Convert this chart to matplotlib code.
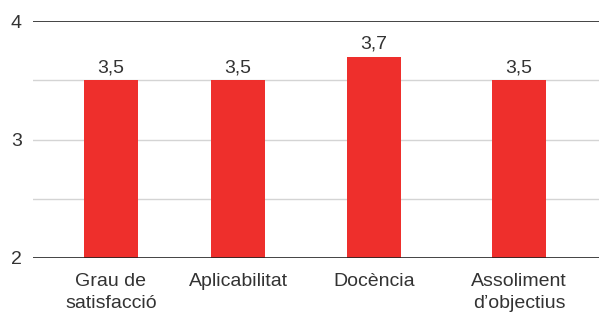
import matplotlib
matplotlib.use('Agg')
from matplotlib import pyplot as plt

categories = ['Grau de\nsatisfacció', 'Aplicabilitat', 'Docència', 'Assoliment\nd\u2019objectius']
values = [3.5, 3.5, 3.7, 3.5]
value_labels = ['3,5', '3,5', '3,7', '3,5']
y_ticks = [2, 3, 4]
y_tick_labels = ['2', '3', '4']

# bar centres (not evenly spaced)
positions = [0.551, 1.449, 2.41, 3.435]

plt.rcParams['font.family'] = ['Liberation Sans', 'DejaVu Sans']
red = '#ee2f2c'
txt = '#333333'
fs = 14

fig = plt.figure(figsize=(5.99, 3.22), dpi=100)
ax = fig.add_axes([33 / 599, 64 / 322, 566 / 599, 237 / 322])

ax.bar(positions, [v - 2 for v in values], bottom=2, width=54 / 141.5, color=red, zorder=3)
for x, v, lab in zip(positions, values, value_labels):
    ax.annotate(lab, (x, v), xytext=(0, 3), textcoords='offset points',
                ha='center', va='bottom', fontsize=fs, color=txt)

ax.set_xlim(0, 4)
ax.set_ylim(2, 4)
for y in [2.5, 3, 3.5]:
    ax.axhline(y, color='#d4d4d4', lw=1, zorder=1)
for y in [2, 4]:
    ax.axhline(y, color='#222222', lw=1.2, zorder=4)

ax.set_yticks(y_ticks)
ax.set_yticklabels(y_tick_labels, fontsize=fs, color=txt)
ax.set_xticks(positions)
ax.set_xticklabels(categories, fontsize=fs, color=txt, linespacing=1.4)
ax.tick_params(axis='both', length=0)
ax.tick_params(axis='y', pad=8)
ax.tick_params(axis='x', pad=11)
for s in ax.spines.values():
    s.set_visible(False)

plt.savefig('out.png', dpi=100)
